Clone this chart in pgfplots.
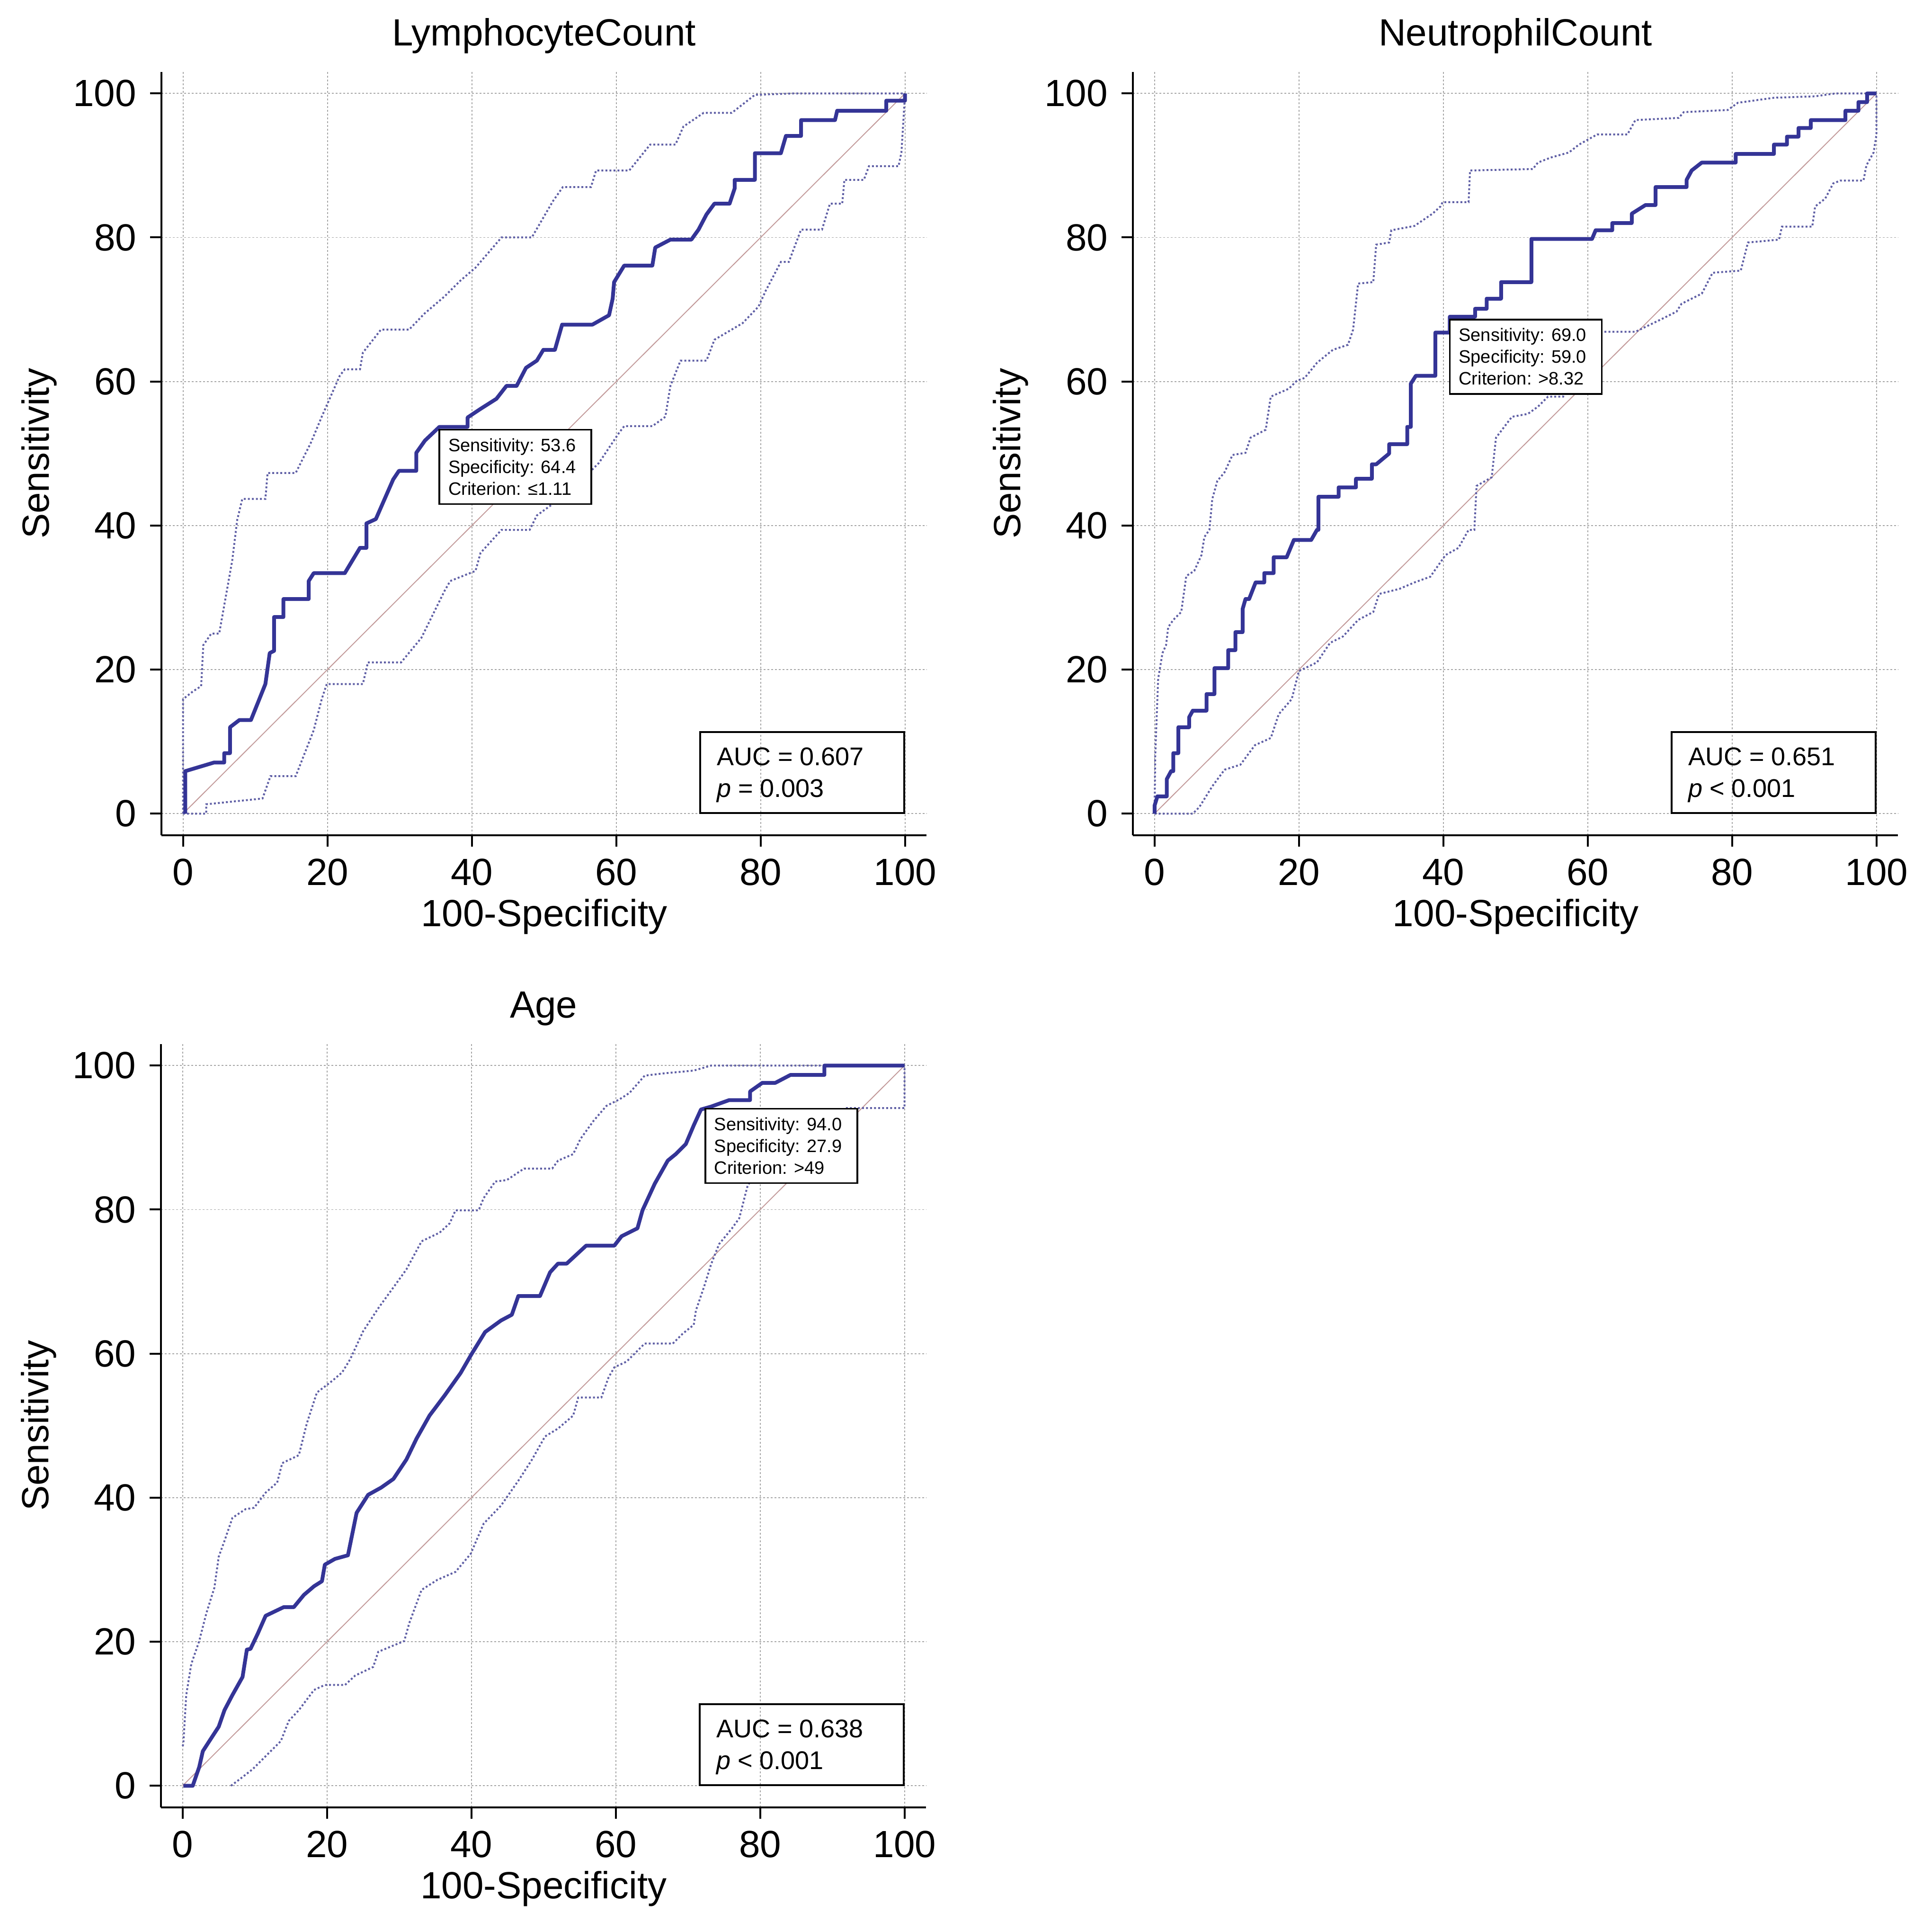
\documentclass[border=0pt]{standalone}
\usepackage{fontspec}
\setmainfont{Liberation Sans}
\usepackage{pgfplots}
\pgfplotsset{compat=1.18}
\definecolor{mainblue}{RGB}{52,52,150}
\definecolor{ciblue}{RGB}{95,95,165}
\definecolor{diagc}{RGB}{195,155,155}
\definecolor{gridc}{RGB}{165,165,165}
\newcommand\lab{\fontsize{8}{9.6}\selectfont}
\newcommand\annot[5]{%
  \draw[line width=0.38pt, fill=white] (axis cs:#1,#2) rectangle ++(32.1pt,-15.7pt);
  \node[anchor=base west, inner sep=0pt, font=\fontsize{3.8}{4.6}\selectfont] at ([shift={(1.7pt,-4.6pt)}]axis cs:#1,#2) {#3};
  \node[anchor=base west, inner sep=0pt, font=\fontsize{3.8}{4.6}\selectfont] at ([shift={(1.7pt,-9.2pt)}]axis cs:#1,#2) {#4};
  \node[anchor=base west, inner sep=0pt, font=\fontsize{3.8}{4.6}\selectfont] at ([shift={(1.7pt,-13.8pt)}]axis cs:#1,#2) {#5};
}
\newcommand\aucbox[2]{%
  \draw[line width=0.4pt] (axis cs:71.6,0.1) rectangle (axis cs:99.9,11.3);
  \node[anchor=base west, inner sep=0pt, font=\fontsize{5.4}{6.4}\selectfont] at (axis cs:73.8,6.7) {#1};
  \node[anchor=base west, inner sep=0pt, font=\fontsize{5.4}{6.4}\selectfont] at (axis cs:73.8,2.3) {#2};
}
\pgfplotsset{
  rocaxis/.style={
    x=1.525pt, y=1.521pt,
    xmin=-3, xmax=103, ymin=-3, ymax=103,
    axis lines=left,
    axis line style={-, line width=0.4pt, black},
    xtick={0,20,...,100}, ytick={0,20,...,100},
    tick align=outside,
    major tick length=2.4pt,
    tick style={line width=0.4pt, black},
    grid=major,
    major grid style={gridc, line width=0.18pt, dash pattern=on 0.4pt off 0.4pt},
    /pgf/number format/assume math mode=true,
    tick label style={font=\lab},
    xticklabel style={anchor=north, inner sep=0pt},
    yticklabel style={anchor=east, inner sep=0pt},
    xticklabel shift=2.4pt,
    yticklabel shift=2.7pt,
    every axis x label/.style={at={(0.5,-0.1197)}, anchor=base, font=\lab},
    every axis y label/.style={at={(-0.1472,0.5)}, rotate=90, anchor=base, font=\lab},
    every axis title/.style={at={(0.5,1.0341)}, anchor=base, font=\lab},
    xlabel={100-Specificity}, ylabel={Sensitivity},
    clip=false,
  },
  mainc/.style={mainblue, line width=0.8pt, line join=round},
  cic/.style={ciblue, line width=0.4pt, dash pattern=on 0.4pt off 0.45pt},
  diag/.style={diagc, line width=0.2pt},
}
\begin{document}
\begin{tikzpicture}
\useasboundingbox (0,0) rectangle (408.1pt,405.9pt);
% ---------------- Panel 1 ----------------
\begin{axis}[rocaxis, at={(34.1pt,229.5pt)}, anchor=south west, title={LymphocyteCount}]
\addplot[diag] coordinates {(0,0) (100,100)};
\addplot[cic] coordinates {(0,0) (0,15.9) (1.4,17.0) (2.5,17.7) (2.8,23.4) (3.9,25.0) (5.0,25.0) (6.8,35.1) (7.5,40.8) (8.2,43.7) (11.4,43.7) (11.7,47.3) (15.6,47.3) (17.7,51.5) (19.2,55.1) (21.7,60.8) (22.4,61.7) (24.5,61.7) (24.9,64.0) (27.4,67.2) (31.3,67.2) (33.4,69.4) (36.2,71.8) (38.4,74.0) (40.5,75.8) (44.1,80.0) (48.3,80.0) (51.2,85.0) (52.6,87.0) (56.5,87.0) (57.2,89.3) (61.8,89.3) (64.7,92.9) (68.2,92.9) (69.3,95.4) (72.1,97.3) (76.0,97.3) (79.2,99.8) (84.6,100) (100,100)};
\addplot[cic] coordinates {(0,0) (3.2,0) (3.2,1.3) (11.0,2.1) (12.1,5.2) (15.6,5.2) (18.1,11.6) (19.2,15.9) (19.9,18.0) (24.9,18.0) (25.6,21.0) (30.2,21.0) (33.0,24.4) (36.2,30.9) (37.0,32.3) (40.5,33.7) (41.2,36.2) (44.1,39.4) (48.0,39.4) (49.0,41.4) (51.2,43.0) (53.3,44.4) (57.6,48.7) (60.4,52.9) (61.1,53.8) (65.0,53.8) (66.8,55.1) (67.5,59.4) (68.9,62.9) (72.5,62.9) (73.6,65.8) (77.5,68.1) (79.7,70.4) (80.7,72.6) (82.8,76.6) (83.9,76.6) (85.6,81.1) (88.5,81.1) (89.6,84.7) (91.3,84.7) (91.6,88.0) (94.3,88.0) (95.0,89.9) (99.1,89.9) (99.5,91.8) (100,100)};
\addplot[mainc] coordinates {(0.3,0) (0.3,5.9) (4.3,7.1) (5.7,7.1) (5.7,8.4) (6.5,8.4) (6.5,12.0) (7.8,13.0) (9.4,13.0) (11.4,18.0) (12.0,22.3) (12.6,22.6) (12.6,27.3) (13.9,27.3) (13.9,29.8) (17.4,29.8) (17.4,32.3) (18.1,33.4) (22.4,33.4) (24.5,36.9) (25.4,36.9) (25.4,40.3) (26.7,40.9) (29.1,46.4) (29.9,47.6) (32.3,47.6) (32.3,50.1) (33.5,51.8) (35.5,53.7) (39.4,53.7) (39.4,55.0) (41.2,56.2) (43.4,57.6) (44.8,59.4) (46.2,59.4) (47.5,61.9) (49.0,62.9) (49.9,64.4) (51.5,64.4) (52.5,67.9) (56.7,67.9) (59.0,69.2) (59.5,71.5) (59.7,73.8) (61.1,76.1) (65.0,76.1) (65.4,78.6) (67.5,79.7) (70.4,79.7) (71.4,81.1) (72.5,83.2) (73.6,84.7) (75.7,84.7) (76.4,86.8) (76.4,88.0) (79.2,88.0) (79.2,91.7) (82.8,91.7) (83.5,94.1) (85.6,94.1) (85.6,96.3) (90.3,96.3) (90.6,97.6) (97.4,97.6) (97.4,99.0) (100,99.0) (100,100)};
\annot{35.5}{53.3}{Sensitivity: 53.6}{Specificity: 64.4}{Criterion: ≤1.11}
\aucbox{AUC = 0.607}{\textit{p} = 0.003}
\end{axis}
% ---------------- Panel 2 ----------------
\begin{axis}[rocaxis, at={(239.3pt,229.5pt)}, anchor=south west, title={NeutrophilCount}]
\addplot[diag] coordinates {(0,0) (100,100)};
\addplot[cic] coordinates {(0,0) (0.1,8.1) (0.5,18.7) (1.1,22.3) (1.6,23.4) (1.9,25.9) (2.6,26.9) (3.7,28.0) (4.4,33.0) (5.5,33.7) (6.5,35.9) (6.9,38.4) (7.6,39.4) (8.0,43.7) (8.7,46.2) (9.7,47.4) (10.8,49.8) (12.6,50.1) (13.3,52.2) (15.4,53.3) (16.1,57.9) (18.6,59.0) (19.7,60.1) (20.8,60.5) (22.5,62.6) (24.7,64.4) (26.8,65.1) (27.5,67.2) (28.2,73.6) (30.3,73.8) (30.7,79.0) (32.5,79.3) (32.8,81.0) (36.0,81.6) (38.5,83.3) (39.6,84.3) (39.9,84.9) (43.5,84.9) (43.7,89.3) (52.4,89.5) (53.1,90.4) (54.9,91.1) (57.4,91.8) (58.8,92.9) (61.3,94.3) (65.5,94.3) (66.6,96.3) (72.6,96.6) (73.3,97.4) (79.4,97.7) (80.8,98.7) (85.8,99.4) (91.5,99.6) (94.3,100) (100,100)};
\addplot[cic] coordinates {(0,0) (5.3,0) (6.2,0.9) (8.0,3.8) (9.7,6.1) (11.9,6.8) (13.9,9.5) (16.1,10.5) (17.2,13.8) (19.0,15.9) (20.0,19.8) (22.5,21.0) (24.3,23.7) (26.1,24.6) (28.2,26.9) (30.3,28.0) (31.1,30.5) (33.9,31.2) (36.0,32.1) (38.2,32.9) (40.3,35.9) (42.1,36.9) (43.5,39.4) (44.3,39.4) (44.6,45.5) (46.7,46.7) (47.3,52.2) (49.5,55.1) (51.7,55.5) (53.1,56.5) (54.5,57.9) (56.6,57.9) (57.4,60.8) (61.8,66.9) (66.6,66.9) (70.1,68.6) (72.3,69.7) (73.0,70.8) (75.8,72.2) (77.3,75.1) (81.2,75.4) (82.2,79.3) (86.5,79.7) (86.9,81.5) (91.1,81.5) (91.5,84.3) (92.9,85.4) (94.0,87.5) (95.0,87.9) (98.2,87.9) (98.6,90.0) (99.6,91.8) (100,94.3) (100,100)};
\addplot[mainc] coordinates {(0,0) (0,1.1) (0.4,2.4) (1.7,2.4) (1.7,4.8) (2.3,5.9) (2.6,5.9) (2.6,8.4) (3.3,8.4) (3.3,12.0) (4.8,12.0) (4.8,13.4) (5.3,14.3) (7.2,14.3) (7.2,16.6) (8.3,16.6) (8.3,20.2) (10.2,20.2) (10.2,22.7) (11.2,22.7) (11.2,25.2) (12.2,25.2) (12.2,28.4) (12.6,29.8) (13.1,29.8) (14.0,32.1) (15.2,32.1) (15.2,33.4) (16.5,33.4) (16.5,35.6) (18.3,35.6) (19.3,38.0) (21.7,38.0) (22.5,39.4) (22.7,39.4) (22.7,44.0) (25.5,44.0) (25.5,45.3) (27.9,45.3) (27.9,46.5) (30.1,46.5) (30.1,48.5) (30.7,48.5) (32.5,50.0) (32.5,51.3) (35.0,51.3) (35.0,53.7) (35.5,53.7) (35.5,59.7) (36.2,60.8) (38.9,60.8) (38.9,66.8) (40.9,66.8) (40.9,69.0) (44.4,69.0) (44.4,70.1) (46.0,70.1) (46.0,71.5) (48.0,71.5) (48.0,73.8) (52.2,73.8) (52.2,79.8) (60.6,79.8) (61.1,81.0) (63.4,81.0) (63.4,82.0) (66.1,82.0) (66.1,83.3) (68.0,84.5) (69.4,84.5) (69.4,87.0) (73.7,87.0) (73.7,88.0) (74.4,89.3) (75.8,90.4) (80.5,90.4) (80.5,91.6) (85.8,91.6) (85.8,92.9) (87.6,92.9) (87.6,94.0) (89.2,94.0) (89.2,95.2) (90.9,95.2) (90.9,96.3) (95.7,96.3) (95.7,97.6) (97.5,97.6) (97.5,98.8) (98.7,98.8) (98.7,100) (100,100)};
\annot{40.9}{68.6}{Sensitivity: 69.0}{Specificity: 59.0}{Criterion: >8.32}
\aucbox{AUC = 0.651}{\textit{p} < 0.001}
\end{axis}
% ---------------- Panel 3 ----------------
\begin{axis}[rocaxis, at={(34.0pt,24.2pt)}, anchor=south west, title={Age}]
\addplot[diag] coordinates {(0,0) (100,100)};
\addplot[cic] coordinates {(0,5.5) (0.1,5.8) (0.5,12.6) (1.2,16.9) (2.3,20.1) (3.3,24.0) (4.4,27.5) (5.0,31.8) (5.8,34.0) (6.9,37.2) (8.7,38.4) (9.9,38.6) (11.5,40.7) (13.1,42.1) (13.8,44.8) (16.1,45.9) (17.2,50.3) (18.6,54.6) (20.7,56.2) (22.1,57.4) (23.2,59.2) (25.0,63.1) (27.1,66.3) (29.2,69.2) (31.0,71.7) (33.1,75.6) (35.6,76.8) (37.0,78.1) (37.8,79.9) (41.0,79.9) (41.7,81.6) (43.3,83.9) (44.9,84.1) (47.3,85.7) (51.2,85.7) (52.0,86.8) (54.1,87.7) (55.1,89.8) (56.9,92.3) (58.7,94.4) (60.5,95.3) (61.9,96.2) (64.0,98.6) (66.5,98.9) (70.8,99.3) (73.2,100) (100,100)};
\addplot[cic] coordinates {(6.7,0) (7.9,0.9) (9.7,2.3) (11.5,4.1) (13.6,6.2) (14.7,9.0) (16.1,10.5) (18.2,13.3) (19.7,14.0) (22.5,14.0) (23.9,15.3) (26.4,16.5) (27.1,18.6) (30.7,20.1) (31.4,22.6) (33.1,27.2) (35.3,28.6) (37.8,29.7) (39.9,32.2) (41.7,36.4) (44.1,38.9) (46.6,42.5) (48.4,45.3) (50.2,48.5) (52.0,49.6) (54.1,51.4) (54.8,53.9) (58.0,53.9) (59.0,56.7) (59.8,58.1) (61.5,58.9) (64.0,61.4) (67.9,61.4) (69.3,62.8) (70.8,64.0) (71.1,66.0) (72.2,69.2) (73.2,72.4) (74.3,75.2) (76.1,77.4) (77.1,78.8) (78.2,83.1) (78.9,84.5) (83.2,87.3) (88.9,91.6) (91.7,94.1) (100,94.1) (100,100)};
\addplot[mainc] coordinates {(0.1,0) (1.4,0) (2.3,2.6) (2.8,4.8) (3.7,6.2) (5.0,8.2) (5.8,10.5) (6.9,12.6) (8.3,15.1) (8.9,18.9) (9.4,19.0) (10.4,21.1) (11.5,23.6) (14.0,24.8) (15.4,24.8) (16.8,26.5) (18.2,27.7) (19.3,28.4) (19.7,30.7) (21.1,31.5) (22.9,32.0) (24.1,37.9) (25.7,40.4) (27.5,41.4) (29.2,42.6) (31.0,45.3) (32.4,48.2) (34.2,51.4) (36.3,54.2) (38.5,57.3) (40.0,59.9) (41.9,63.0) (44.1,64.6) (45.6,65.4) (46.5,68.0) (49.5,68.0) (50.9,71.3) (52.0,72.5) (53.2,72.5) (55.9,75.0) (59.8,75.0) (60.8,76.3) (63.0,77.4) (63.7,79.9) (65.4,83.6) (67.2,86.8) (68.3,87.7) (69.7,89.1) (70.8,91.7) (71.8,93.9) (73.2,94.3) (75.7,95.2) (78.6,95.2) (78.6,96.4) (80.3,97.6) (82.1,97.6) (84.2,98.7) (88.9,98.7) (88.9,100) (100,100)};
\annot{72.4}{94.0}{Sensitivity: 94.0}{Specificity: 27.9}{Criterion: >49}
\aucbox{AUC = 0.638}{\textit{p} < 0.001}
\end{axis}
\end{tikzpicture}
\end{document}
